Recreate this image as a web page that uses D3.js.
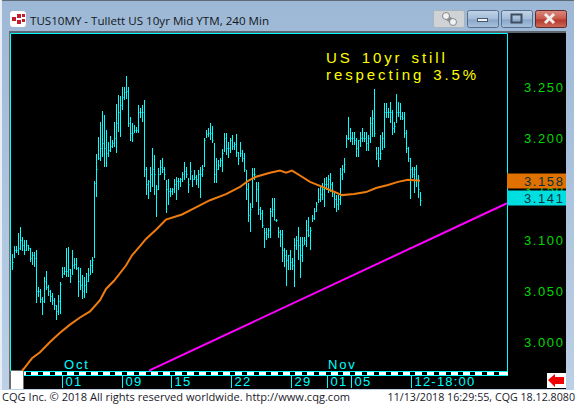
<!DOCTYPE html>
<html>
<head>
<meta charset="utf-8">
<script src="https://cdn.jsdelivr.net/npm/d3@7"></script>
<style>
  html, body { margin: 0; padding: 0; background: #fff; }
  svg { display: block; }
  text { font-family: "Liberation Sans", sans-serif; }
</style>
</head>
<body>
<svg id="chart" width="576" height="404"></svg>
<script>
// 240 min bars, one entry per bar
const highs = [3.086,3.094,3.094,3.107,3.113,3.103,3.100,3.100,3.095,3.092,3.088,3.088,3.090,3.054,3.052,3.044,3.064,3.070,3.056,3.051,
  3.048,3.043,3.036,3.046,3.059,3.074,3.074,3.092,3.093,3.072,3.090,3.082,3.082,3.074,3.073,3.066,3.064,3.068,3.073,3.080,
  3.083,3.158,3.184,3.201,3.216,3.226,3.223,3.208,3.196,3.202,3.198,3.216,3.233,3.242,3.241,3.250,3.250,3.261,3.250,3.221,
  3.215,3.213,3.211,3.232,3.229,3.232,3.237,3.172,3.159,3.172,3.190,3.183,3.154,3.171,3.178,3.180,3.172,3.159,3.160,3.151,
  3.151,3.160,3.162,3.161,3.161,3.167,3.176,3.172,3.161,3.176,3.164,3.169,3.164,3.169,3.172,3.174,3.200,3.208,3.210,3.215,
  3.212,3.195,3.180,3.178,3.180,3.189,3.205,3.205,3.196,3.200,3.203,3.196,3.204,3.186,3.196,3.188,3.185,3.169,3.156,3.136,
  3.171,3.171,3.157,3.157,3.132,3.129,3.112,3.112,3.112,3.131,3.141,3.141,3.121,3.113,3.110,3.110,3.092,3.090,3.085,3.090,
  3.082,3.102,3.104,3.113,3.103,3.103,3.103,3.120,3.123,3.113,3.125,3.131,3.137,3.151,3.152,3.156,3.161,3.162,3.164,3.166,
  3.157,3.146,3.144,3.144,3.171,3.174,3.180,3.203,3.221,3.210,3.206,3.206,3.200,3.198,3.206,3.210,3.206,3.206,3.203,3.221,
  3.227,3.248,3.191,3.191,3.203,3.206,3.234,3.234,3.229,3.235,3.227,3.216,3.243,3.235,3.234,3.225,3.225,3.208,3.191,3.180,
  3.172,3.172,3.174,3.164,3.147];
const lows = [3.071,3.082,3.087,3.085,3.090,3.089,3.085,3.089,3.089,3.078,3.075,3.074,3.038,3.044,3.038,3.026,3.038,3.051,3.045,3.039,
  3.036,3.031,3.022,3.026,3.027,3.063,3.066,3.064,3.064,3.058,3.066,3.072,3.071,3.044,3.051,3.042,3.043,3.048,3.059,3.066,
  3.068,3.082,3.142,3.178,3.177,3.181,3.172,3.172,3.181,3.186,3.190,3.191,3.185,3.206,3.201,3.227,3.237,3.238,3.211,3.197,
  3.196,3.205,3.205,3.205,3.220,3.216,3.162,3.144,3.140,3.147,3.152,3.144,3.123,3.149,3.164,3.166,3.159,3.126,3.134,3.142,
  3.144,3.146,3.139,3.149,3.152,3.157,3.159,3.161,3.146,3.159,3.152,3.159,3.154,3.151,3.141,3.162,3.172,3.200,3.201,3.198,
  3.195,3.156,3.156,3.169,3.172,3.167,3.186,3.183,3.180,3.185,3.188,3.188,3.181,3.174,3.181,3.176,3.167,3.139,3.118,3.108,
  3.131,3.159,3.137,3.125,3.120,3.112,3.092,3.100,3.102,3.102,3.123,3.120,3.118,3.102,3.093,3.078,3.074,3.055,3.071,3.071,
  3.071,3.054,3.090,3.080,3.063,3.078,3.095,3.093,3.103,3.090,3.118,3.120,3.127,3.136,3.137,3.139,3.132,3.149,3.146,3.147,
  3.142,3.131,3.127,3.129,3.134,3.159,3.166,3.190,3.198,3.196,3.193,3.193,3.181,3.181,3.191,3.196,3.196,3.187,3.187,3.195,
  3.201,3.201,3.178,3.172,3.178,3.188,3.190,3.220,3.220,3.215,3.203,3.205,3.215,3.221,3.218,3.218,3.200,3.185,3.176,3.140,
  3.161,3.146,3.152,3.141,3.133];
const closes = [3.078,3.090,3.090,3.092,3.100,3.095,3.090,3.095,3.092,3.082,3.085,3.082,3.050,3.050,3.042,3.040,3.060,3.054,3.050,3.045,
  3.041,3.036,3.030,3.040,3.057,3.068,3.070,3.070,3.072,3.065,3.075,3.076,3.073,3.060,3.056,3.050,3.056,3.060,3.066,3.075,
  3.080,3.156,3.170,3.180,3.190,3.195,3.190,3.185,3.188,3.192,3.195,3.200,3.215,3.225,3.232,3.240,3.245,3.246,3.215,3.205,
  3.205,3.208,3.208,3.225,3.225,3.225,3.170,3.155,3.158,3.165,3.170,3.165,3.150,3.165,3.172,3.170,3.165,3.150,3.148,3.148,
  3.150,3.155,3.158,3.158,3.160,3.165,3.168,3.165,3.155,3.168,3.160,3.162,3.160,3.165,3.165,3.170,3.198,3.204,3.205,3.205,
  3.198,3.165,3.170,3.174,3.178,3.185,3.200,3.190,3.190,3.198,3.192,3.194,3.186,3.180,3.185,3.180,3.170,3.150,3.125,3.130,
  3.165,3.165,3.150,3.130,3.126,3.115,3.108,3.106,3.110,3.128,3.130,3.120,3.120,3.108,3.106,3.090,3.085,3.080,3.085,3.078,
  3.075,3.095,3.100,3.095,3.085,3.095,3.100,3.110,3.105,3.110,3.122,3.128,3.135,3.140,3.145,3.150,3.155,3.155,3.160,3.155,
  3.148,3.140,3.135,3.140,3.165,3.170,3.175,3.200,3.200,3.200,3.200,3.198,3.190,3.198,3.200,3.200,3.200,3.195,3.200,3.215,
  3.220,3.205,3.185,3.180,3.185,3.200,3.225,3.225,3.225,3.225,3.210,3.212,3.225,3.225,3.222,3.220,3.205,3.190,3.180,3.170,
  3.165,3.170,3.160,3.150,3.139];

// orange average, sampled by bar number
const avgBars = [5,6,8,10,14,19,24,29,34,39,44,47,51,57,60,64,67,72,77,85,90,99,107,114,118,122,129,134,137,140,145,149,154,159,165,171,177,182,188,193,198,204];
const avgVals = [2.972,2.974,2.979,2.984,2.990,3.000,3.009,3.017,3.024,3.030,3.041,3.052,3.060,3.075,3.085,3.094,3.101,3.110,3.120,3.125,3.130,3.139,3.145,3.152,3.158,3.162,3.166,3.168,3.166,3.168,3.162,3.157,3.153,3.149,3.144,3.145,3.147,3.151,3.154,3.157,3.159,3.158];

// magenta trendline
const trendBars = [68.5, 247.5];
const trendVals = [2.972, 3.136];

const priceTicks = [3.25, 3.2, 3.15, 3.1, 3.05, 3.0];
const dateBars = [25, 55, 79.5, 109.5, 139.5, 157.5, 169.5, 199.5];
const dateLabels = ["01", "09", "15", "22", "29", "01", "05", "12-18:00"];
const monthBars = [26, 158];
const monthLabels = ["Oct", "Nov"];
const noteLines = ["US 10yr still", "respecting 3.5%"];

const CYAN = "#00ffff";
const svg = d3.select("#chart");
const x = d3.scaleLinear().domain([0, 204]).range([12, 420]);
const y = d3.scaleLinear().domain([3.25, 3.0]).range([87, 342]);

const rect = (g, a, b, w, h, fill) => g.append("rect").attr("x", a).attr("y", b).attr("width", w).attr("height", h).attr("fill", fill);

// window frame
const defs = svg.append("defs");
const addGrad = (id, stops) => {
  const g = defs.append("linearGradient").attr("id", id).attr("x1", 0).attr("x2", 0).attr("y1", 0).attr("y2", 1);
  stops.forEach(([o, c]) => g.append("stop").attr("offset", o).attr("stop-color", c));
};
addGrad("frame", [[0, "#9db8d6"], [1, "#bcd0e6"]]);
addGrad("blueBtn", [[0, "#c3d4e8"], [0.5, "#a3bcd9"], [0.55, "#8aa6c8"], [1, "#a9c1dd"]]);
addGrad("redBtn", [[0, "#dc8a80"], [0.5, "#c9574a"], [0.55, "#b23a2a"], [1, "#cf6a5c"]]);
rect(svg, 0, 0, 576, 404, "#fff");
rect(svg, 0, 0, 576, 390, "url(#frame)");
rect(svg, 0, 0, 576, 1, "#5f6b78");
rect(svg, 0, 0, 2, 390, "#e8eef5");
rect(svg, 574, 0, 2, 390, "#fff");
rect(svg, 9, 31, 557, 358, "#000");
rect(svg, 9, 31, 557, 2, "#5d6670");
rect(svg, 9, 31, 1, 358, "#6e6e6e");

// white corner under the left edge
rect(svg, 9, 370, 15, 19, "#6e6e6e");
rect(svg, 11, 371, 12, 18, "#fff");

// plot border
const border = svg.append("g").attr("fill", "none").attr("stroke", CYAN);
border.append("path").attr("stroke-width", 1).attr("d", "M10.5,371V33.5H507.5V373");

// cyan and white strip with black dashes under the plot
rect(svg, 24, 371, 484, 1, CYAN);
rect(svg, 24, 372, 484, 3, "#fff");
svg.append("line").attr("x1", 26).attr("x2", 506).attr("y1", 373.5).attr("y2", 373.5)
  .attr("stroke", "#000").attr("stroke-width", 3).attr("stroke-dasharray", "5 7");
rect(svg, 24, 375, 484, 1, CYAN);

// tick labels on the right
const yAxis = d3.axisRight(y).tickValues(priceTicks).tickSize(0).tickPadding(0).tickFormat(d3.format(".3f"));
const yG = svg.append("g").attr("transform", "translate(524,0)").call(yAxis);
yG.select(".domain").remove();
yG.selectAll("text").attr("fill", "#00d800").attr("font-size", 13).attr("letter-spacing", 1.6);

// date axis
const xAxis = d3.axisBottom(x).tickValues(dateBars).tickSize(13).tickFormat((d, i) => dateLabels[i]);
const xG = svg.append("g").attr("transform", "translate(0,375)").call(xAxis);
xG.select(".domain").remove();
xG.selectAll("line").attr("stroke", CYAN);
xG.selectAll("text").attr("fill", CYAN).attr("font-size", 13).attr("letter-spacing", 1.2)
  .attr("text-anchor", "start").attr("x", 3).attr("y", 2).attr("dy", "0.72em");

svg.append("g").selectAll("text").data(monthLabels).join("text")
  .attr("x", (d, i) => x(monthBars[i])).attr("y", 369)
  .attr("fill", CYAN).attr("font-size", 13).attr("letter-spacing", 1.8).text(d => d);

// trendline under the bars
const plotLine = d3.line().x(d => x(d[0])).y(d => y(d[1]));
svg.append("path").attr("d", plotLine(d3.zip(trendBars, trendVals)))
  .attr("fill", "none").attr("stroke", "#ff00ff").attr("stroke-width", 2);

// hlc bars
const bars = svg.append("g").attr("stroke", CYAN).attr("fill", "none");
bars.append("path").attr("stroke-width", 1).attr("d", highs.map((h, i) => {
  const b = Math.round(x(i)) + 0.5;
  return `M${b},${Math.round(y(h))}V${Math.round(y(lows[i]))}`;
}).join(""));
bars.append("path").attr("stroke-width", 1).attr("d", closes.map((c, i) => {
  const b = Math.round(x(i)) + 0.5;
  return `M${b},${Math.round(y(c)) + 0.5}h1`;
}).join(""));

// average on top of the bars
svg.append("path").attr("d", plotLine(d3.zip(avgBars, avgVals)))
  .attr("fill", "none").attr("stroke", "#ee7c0e").attr("stroke-width", 2);

// last price boxes
const boxes = [[3.158, "#e07000"], [3.141, "#00dfe0"]];
boxes.forEach(([v, fill]) => {
  rect(svg, 507, Math.round(y(v)) - 7.5, 59, 15, fill);
  svg.append("text").attr("x", 524).attr("y", y(v) + 5).attr("fill", "#06303a")
    .attr("font-size", 13).attr("letter-spacing", 1.6).text(d3.format(".3f")(v));
});

// note
svg.append("g").selectAll("text").data(noteLines).join("text")
  .attr("x", 326).attr("y", (d, i) => 63 + i * 17)
  .attr("fill", "#ffff00").attr("font-size", 15).attr("letter-spacing", 2.9).attr("word-spacing", 2).text(d => d);

// window title and app icon
rect(svg, 10, 11, 16, 16, "#fff").attr("rx", 3);
[[12, 17, 4], [17, 14, 4], [17, 20, 4], [22, 14, 3], [22, 19, 3]].forEach(([a, b, s]) => rect(svg, a, b, s, s, "#c41f2c"));
svg.append("text").attr("x", 30).attr("y", 24.5).attr("fill", "#101820")
  .style("font-family", "'Open Sans'").attr("font-size", 11.6).text("TUS10MY - Tullett US 10yr Mid YTM, 240 Min");

// caption buttons
const captionButton = (a, fill) => rect(svg, a + 0.5, 10.5, 31, 17, fill).attr("rx", 2).attr("stroke", "#55708f");
captionButton(433, "#cfd3d6").attr("stroke", "#aab4be");
captionButton(467, "url(#blueBtn)");
captionButton(501, "url(#blueBtn)");
captionButton(535, "url(#redBtn)").attr("stroke", "#5e2a2a");
svg.append("path").attr("d", "M445,16l8,6").attr("stroke", "#8b8f93").attr("stroke-width", 5).attr("stroke-linecap", "round");
svg.append("circle").attr("cx", 446).attr("cy", 16).attr("r", 3.5).attr("fill", "#f2f2f2").attr("stroke", "#85898d");
svg.append("circle").attr("cx", 453).attr("cy", 22).attr("r", 3.5).attr("fill", "#f2f2f2").attr("stroke", "#85898d");
rect(svg, 477.5, 18.5, 10, 3, "#eef3f8").attr("stroke", "#49586b");
rect(svg, 511.5, 14.5, 10, 8, "none").attr("stroke", "#3e4d60").attr("stroke-width", 2);
svg.append("path").attr("d", "M545,14l9,9M554,14l-9,9").attr("stroke", "#f0eded").attr("stroke-width", 3);

// scroll arrow
rect(svg, 547, 373, 19, 15, "#fff");
svg.append("path").attr("d", "M548,380l7,-6v3h9v7h-9v3z").attr("fill", "#f00000");

// status bar
const statusFont = "'Open Sans'";
svg.append("text").attr("x", 2).attr("y", 401).attr("fill", "#1a1a2a").style("font-family", statusFont)
  .attr("font-size", 11.1).text("CQG Inc. © 2018 All rights reserved worldwide.  http://www.cqg.com");
svg.append("text").attr("x", 575).attr("y", 401).attr("text-anchor", "end").attr("fill", "#1a1a2a").style("font-family", statusFont)
  .attr("font-size", 10.7).text("11/13/2018 16:29:55, CQG 18.12.8080");
</script>
</body>
</html>
